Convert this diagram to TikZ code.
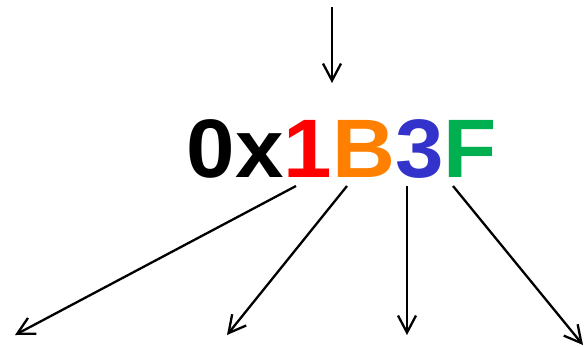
\documentclass[tikz,border=0pt]{standalone}
\usepackage{fontspec}
\setmainfont{Liberation Sans}
\usetikzlibrary{arrows.meta}
\definecolor{hexred}{RGB}{255,0,0}
\definecolor{hexorange}{RGB}{255,128,0}
\definecolor{hexblue}{RGB}{51,51,204}
\definecolor{hexgreen}{RGB}{0,176,80}
\begin{document}
\begin{tikzpicture}[x=1pt,y=1pt,
  arr/.style={line width=2.3pt,-{Straight Barb[length=17pt,width=18pt,line width=2.3pt]}},
  hextext/.style={inner sep=0pt,anchor=base west,font=\fontsize{83}{98}\selectfont\bfseries}]
\useasboundingbox (0,0) rectangle (584,346);
\node[hextext] (hex) at (186.5,168) {\scalebox{1.05}[1]{0x\textcolor{hexred}{1}\textcolor{hexorange}{B}\textcolor{hexblue}{3}\textcolor{hexgreen}{F}}};
\coordinate (top) at (332,339);
\coordinate (in) at (332,263);
\coordinate (s1) at (296,160);
\coordinate (s2) at (347,160);
\coordinate (s3) at (407,160);
\coordinate (s4) at (453,160);
\coordinate (e1) at (15,11);
\coordinate (e2) at (227,11);
\coordinate (e3) at (407,11);
\coordinate (e4) at (583,1);
\draw[arr] (top) -- (in);
\draw[arr] (s1) -- (e1);
\draw[arr] (s2) -- (e2);
\draw[arr] (s3) -- (e3);
\draw[arr] (s4) -- (e4);
\end{tikzpicture}
\end{document}
